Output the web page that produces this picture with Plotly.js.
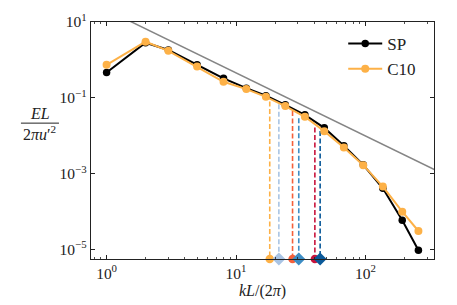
<!DOCTYPE html>
<html>
<head>
<meta charset="utf-8">
<script src="https://cdn.plot.ly/plotly-3.0.1.min.js"></script>
<style>html,body{margin:0;padding:0;background:#fff;}#chart{width:457px;height:305px;}</style>
</head>
<body>
<div id="chart"></div>
<script>
// wavenumbers kL/(2π)
const kVals = [1, 2, 3, 5, 8, 12, 17, 24, 34, 48, 68, 96, 136, 192, 256];
// spectra EL/(2πu'^2)
const spVals  = [0.466, 2.84, 1.82, 0.744, 0.327, 0.180, 0.113, 0.0653, 0.0356, 0.0161, 0.0054, 0.0017, 4.11e-4, 5.87e-5, 9.47e-6];
const c10Vals = [0.744, 3.02, 1.74, 0.671, 0.265, 0.170, 0.106, 0.0604, 0.0315, 0.0132, 0.00486, 0.00167, 4.54e-4, 9.9e-5, 3.06e-5];
// -5/3 reference line end points
const refK = [1, 400];
const refE = [21, 9.8e-4];
// cutoff wavenumbers (dashed verticals)
const cutK = [18.2, 21.4, 27.3, 30.5, 40.6, 44.6];
const cutE = [0.080, 0.068, 0.045, 0.029, 0.0164, 0.0134];
const cutColors = ['#FDB147', '#A9C4E4', '#F5603A', '#3D8DC4', '#C8143C', '#0B5A9A'];
const cutSymbols = ['circle', 'diamond', 'circle', 'diamond', 'circle', 'diamond'];
// tick labels
const xTickVals = [1, 10, 100];
const xTickText = ['10<sup>0</sup>', '10<sup>1</sup>', '10<sup>2</sup>'];
const yTickVals = [10, 0.1, 0.001, 0.00001];
const yTickText = ['10<sup>1</sup>', '10<sup>\u22121</sup>', '10<sup>\u22123</sup>', '10<sup>\u22125</sup>'];

const yLogMin = -5.253, yLogMax = 1.0;
const xLogMin = -0.1204, xLogMax = 2.5286;
const yBottom = Math.pow(10, yLogMin);

const serif = 'Liberation Serif, Times New Roman, serif';
const traces = [];

// dashed cutoff lines
cutK.forEach((k, i) => {
  traces.push({
    x: [k, k], y: [cutE[i], yBottom], mode: 'lines', type: 'scatter',
    line: {color: cutColors[i], width: 1.6, dash: '5px,2.5px'},
    showlegend: false, hoverinfo: 'skip'
  });
});
// reference line
traces.push({
  x: refK, y: refE, mode: 'lines', type: 'scatter',
  line: {color: '#858585', width: 1.5}, showlegend: false, hoverinfo: 'skip'
});
traces.push({
  x: kVals, y: spVals, name: 'SP', mode: 'lines+markers', type: 'scatter',
  line: {color: '#000000', width: 2}, marker: {color: '#000000', size: 7.5}
});
traces.push({
  x: kVals, y: c10Vals, name: 'C10', mode: 'lines+markers', type: 'scatter',
  line: {color: '#FDB147', width: 2}, marker: {color: '#FDB147', size: 8}
});
// cutoff markers at bottom
cutK.forEach((k, i) => {
  traces.push({
    x: [k], y: [yBottom], mode: 'markers', type: 'scatter', cliponaxis: false,
    marker: {color: cutColors[i], symbol: cutSymbols[i], size: cutSymbols[i] === 'diamond' ? 10 : 8.5},
    showlegend: false, hoverinfo: 'skip'
  });
});

const L = 91, R = 23.3, T = 22, B = 46.3;
const W = 457 - L - R, H = 305 - T - B;
const px = v => (v - L) / W;
const py = v => (305 - B - v) / H;

const layout = {
  width: 457, height: 305,
  margin: {l: L, r: R, t: T, b: B, pad: 0},
  paper_bgcolor: '#ffffff', plot_bgcolor: '#ffffff',
  font: {family: serif, color: '#222222', size: 15},
  showlegend: true,
  legend: {
    x: px(343), xanchor: 'left', y: py(26), yanchor: 'top',
    bgcolor: 'rgba(0,0,0,0)', borderwidth: 0,
    font: {family: serif, size: 17, color: '#222222'},
    itemwidth: 34, tracegroupgap: 0
  },
  xaxis: {
    type: 'log', range: [xLogMin, xLogMax],
    tickmode: 'array', tickvals: xTickVals, ticktext: xTickText,
    ticks: 'inside', ticklen: 4, tickwidth: 1, tickcolor: '#222',
    minor: {ticks: 'inside', ticklen: 2, tickwidth: 0.8, tickcolor: '#222', dtick: 'D1', showgrid: false},
    showline: true, linecolor: '#222', linewidth: 1.3, mirror: 'ticks',
    showgrid: false, zeroline: false,
    tickfont: {family: serif, size: 15.5, color: '#222'},
    title: {text: '<i>kL</i>/(2<i>π</i>)', font: {family: serif, size: 16, color: '#222'}, standoff: 4}
  },
  yaxis: {
    type: 'log', range: [yLogMin, yLogMax],
    tickmode: 'array', tickvals: yTickVals, ticktext: yTickText,
    ticks: 'inside', ticklen: 4, tickwidth: 1, tickcolor: '#222',
    showline: true, linecolor: '#222', linewidth: 1.3, mirror: 'ticks',
    showgrid: false, zeroline: false,
    tickfont: {family: serif, size: 15.5, color: '#222'}
  },
  annotations: [
    {xref: 'paper', yref: 'paper', x: px(40), y: py(113), text: '<i>EL</i>', showarrow: false,
     xanchor: 'center', yanchor: 'middle', font: {family: serif, size: 16, color: '#222'}},
    {xref: 'paper', yref: 'paper', x: px(40), y: py(133), text: '2<i>πu</i>′<sup>2</sup>', showarrow: false,
     xanchor: 'center', yanchor: 'middle', font: {family: serif, size: 16, color: '#222'}}
  ],
  shapes: [
    {type: 'line', xref: 'paper', yref: 'paper', x0: px(21), x1: px(59), y0: py(123), y1: py(123),
     line: {color: '#222', width: 1}}
  ]
};

Plotly.newPlot('chart', traces, layout, {displayModeBar: false, staticPlot: true});
</script>
</body>
</html>
